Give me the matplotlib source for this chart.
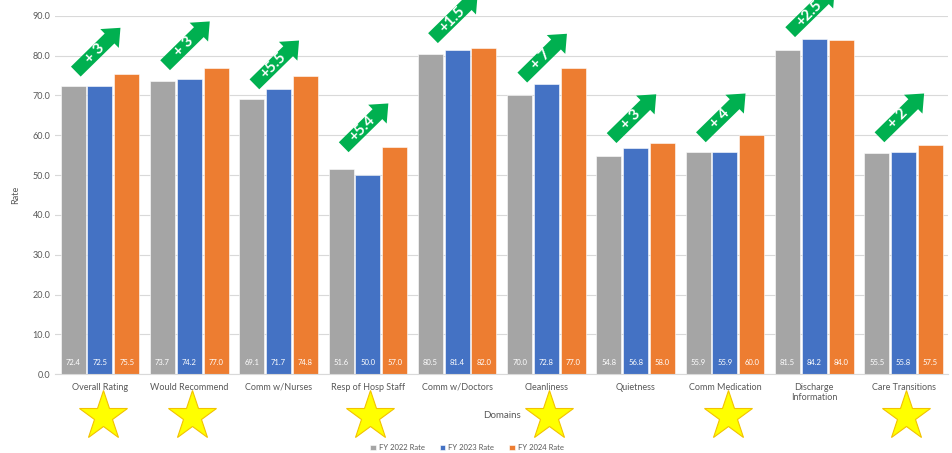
import numpy as np
import matplotlib
matplotlib.use("Agg")
import matplotlib.pyplot as plt

plt.rcParams['font.family'] = ['Lato', 'DejaVu Sans']

domains = ["Overall Rating", "Would Recommend", "Comm w/Nurses", "Resp of Hosp Staff",
           "Comm w/Doctors", "Cleanliness", "Quietness", "Comm Medication",
           "Discharge\nInformation", "Care Transitions"]
fy2022 = [72.4, 73.7, 69.1, 51.6, 80.5, 70.0, 54.8, 55.9, 81.5, 55.5]
fy2023 = [72.5, 74.2, 71.7, 50.0, 81.4, 72.8, 56.8, 55.9, 84.2, 55.8]
fy2024 = [75.5, 77.0, 74.8, 57.0, 82.0, 77.0, 58.0, 60.0, 84.0, 57.5]
gains = ["+ 3", "+ 3", "+5.5", "+5.4", "+1.5", "+ 7", "+ 3", "+ 4", "+2.5", "+ 2"]
starred = [True, True, False, True, False, True, False, True, False, True]
series_names = ["FY 2022 Rate", "FY 2023 Rate", "FY 2024 Rate"]

colors = ["#A5A5A5", "#4472C4", "#ED7D31"]
green = "#00B050"
# small per-arrow lift above the tallest bar (layout only)
arrow_lift = [0.5, 0.6, -2.0, 0.0, 2.4, -2.5, 1.3, -0.5, 1.7, 2.0]

fig = plt.figure(figsize=(9.53, 4.53), dpi=100)
ax = fig.add_axes([0.058, 0.174, 0.937, 0.791])

x = np.arange(len(domains))
w = 0.28
step = 0.30
for k, vals in enumerate([fy2022, fy2023, fy2024]):
    pos = x + (k - 1) * step
    ax.bar(pos, vals, w, color=colors[k], edgecolor="white", linewidth=0.4,
           label=series_names[k], zorder=2)
    for px, v in zip(pos, vals):
        ax.text(px, 3, f"{v:.1f}", ha="center", va="center", color="white",
                fontsize=5.5, zorder=3)

ax.set_xlim(-0.5, len(domains) - 0.5)
ax.set_ylim(0, 90)
ax.set_yticks(np.arange(0, 91, 10))
ax.set_yticklabels([f"{t:.1f}" for t in np.arange(0, 91, 10)])
ax.set_xticks(x)
ax.set_xticklabels(domains)
ax.tick_params(axis="both", length=0, labelsize=6.5, labelcolor="#595959")
ax.tick_params(axis="x", pad=6)
ax.yaxis.grid(True, color="#D9D9D9", linewidth=0.8, zorder=0)
ax.set_axisbelow(True)
for s in ["top", "right", "left"]:
    ax.spines[s].set_visible(False)
ax.spines["bottom"].set_color("#D9D9D9")

# green arrows with gain text
for i in range(len(domains)):
    top = max(fy2022[i], fy2023[i], fy2024[i]) + arrow_lift[i]
    tail = (i - 0.27, top)
    tip = (i + 0.23, top + 11)
    ax.annotate("", xy=tip, xytext=tail, annotation_clip=False,
                arrowprops=dict(arrowstyle="simple,head_width=1.9,head_length=1.1,tail_width=1.0",
                                fc=green, ec="none", mutation_scale=10,
                                shrinkA=0, shrinkB=0), zorder=4)
    mx = tail[0] + 0.42 * (tip[0] - tail[0])
    my = tail[1] + 0.42 * (tip[1] - tail[1])
    ax.text(mx, my, gains[i], rotation=45, ha="center", va="center", color="white",
            fontsize=11, fontweight="bold", zorder=5, clip_on=False,
            rotation_mode="anchor")

# stars below the domain labels
for i, s in enumerate(starred):
    if s:
        ax.plot(i + 0.03, -10.6, marker="*", markersize=37, color="#FFFF00",
                markeredgecolor="#F2C200", markeredgewidth=0.8, clip_on=False, zorder=5)

fig.text(0.527, 0.083, "Domains", ha="center", va="center", fontsize=7, color="#595959")
fig.text(0.016, 0.57, "Rate", ha="center", va="center", rotation=90, fontsize=6.5,
         color="#595959")

fig.legend(loc="center", bbox_to_anchor=(0.49, 0.012), ncol=3, frameon=False,
           fontsize=5.5, handlelength=0.7, handleheight=0.7, columnspacing=2.0,
           handletextpad=0.4, labelcolor="#595959")

fig.savefig("out.png", dpi=100)
